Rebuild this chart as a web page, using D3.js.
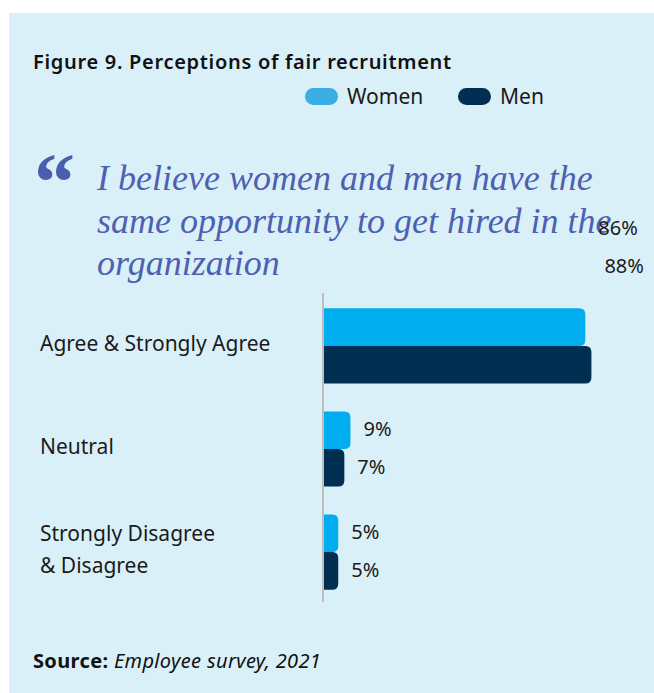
<!DOCTYPE html>
<html>
<head>
<meta charset="utf-8">
<script src="https://cdn.jsdelivr.net/npm/d3@7"></script>
<style>
  html, body { margin: 0; padding: 0; background: #ffffff; }
  svg { display: block; }
</style>
</head>
<body>
<svg id="chart" width="654" height="693"></svg>
<script>
// Survey responses, share of respondents (%)
const categories = ["Agree & Strongly Agree", "Neutral", "Strongly Disagree & Disagree"];
const categoryLines = [["Agree & Strongly Agree"], ["Neutral"], ["Strongly Disagree", "& Disagree"]];
const seriesNames = ["Women", "Men"];
const women = [86, 9, 5];
const men = [88, 7, 5];
const quoteLines = [
  "I believe women and men have the",
  "same opportunity to get hired in the",
  "organization"
];

const W = 654, H = 693;
const colors = { Women: "#00aeef", Men: "#002f52" };
const legendColors = { Women: "#3aaee2", Men: "#012e52" };
const sans = "'Noto Sans', 'Open Sans', sans-serif";

const svg = d3.select("#chart");

// background panel
svg.append("rect")
  .attr("x", 9).attr("y", 13)
  .attr("width", W - 9).attr("height", H - 13)
  .attr("fill", "#daf0f8");

// title
svg.append("text")
  .attr("x", 33).attr("y", 69)
  .attr("font-family", sans)
  .attr("font-weight", 600)
  .attr("font-size", 20)
  .attr("letter-spacing", 0.7)
  .attr("fill", "#111")
  .text("Figure 9. Perceptions of fair recruitment");

// legend
const legendItems = [{ name: "Women", x: 305 }, { name: "Men", x: 458 }];
const lg = svg.append("g").selectAll("g").data(legendItems).join("g")
  .attr("transform", d => `translate(${d.x},88)`);
lg.append("rect")
  .attr("width", 33).attr("height", 17).attr("rx", 8.5)
  .attr("fill", d => legendColors[d.name]);
lg.append("text")
  .attr("x", 42).attr("y", 16)
  .attr("font-family", sans).attr("font-size", 21)
  .attr("fill", "#1a1a1a")
  .text(d => d.name);

// quotation
svg.append("text")
  .attr("x", 34).attr("y", 210)
  .attr("font-family", "'Liberation Serif', serif")
  .attr("font-weight", 700)
  .attr("font-size", 82)
  .attr("fill", "#4a5eae")
  .text("\u201C");

svg.append("g").selectAll("text").data(quoteLines).join("text")
  .attr("x", 97)
  .attr("y", (d, i) => 190 + i * 42.5)
  .attr("font-family", "'Liberation Serif', serif")
  .attr("font-style", "italic")
  .attr("font-size", 36)
  .attr("fill", "#4d60b2")
  .text(d => d);

// scales
const x = d3.scaleLinear().domain([0, 100]).range([323, 628]);
const y = d3.scaleBand().domain(categories).range([296, 602])
  .paddingInner(0.27).paddingOuter(0.12);
const ySub = d3.scaleBand().domain(seriesNames).range([0, y.bandwidth()]);

// bar path: square on the left, rounded on the right
function barPath(x0, y0, w, h, r) {
  r = Math.min(r, w, h / 2);
  return `M${x0},${y0}H${x0 + w - r}Q${x0 + w},${y0} ${x0 + w},${y0 + r}` +
         `V${y0 + h - r}Q${x0 + w},${y0 + h} ${x0 + w - r},${y0 + h}H${x0}Z`;
}

const rows = [];
categories.forEach((c, i) => {
  rows.push({ cat: c, idx: i, series: "Women", value: women[i] });
  rows.push({ cat: c, idx: i, series: "Men", value: men[i] });
});

svg.append("g").selectAll("path").data(rows).join("path")
  .attr("d", d => barPath(x(0), y(d.cat) + ySub(d.series), x(d.value) - x(0), ySub.bandwidth(), 6))
  .attr("fill", d => colors[d.series]);

// value labels (top group labels sit above the chart area)
const labelShift = [-98, 0, 0];
svg.append("g").selectAll("text").data(rows).join("text")
  .attr("x", d => x(d.value) + 13)
  .attr("y", d => y(d.cat) + ySub(d.series) + ySub.bandwidth() / 2 + 6 + labelShift[d.idx])
  .attr("font-family", sans).attr("font-size", 20)
  .attr("fill", "#1a1a1a")
  .text(d => d.value + "%");

// axis line
svg.append("line")
  .attr("x1", x(0)).attr("x2", x(0))
  .attr("y1", 293).attr("y2", 602)
  .attr("stroke", "#bdbdbd").attr("stroke-width", 2);

// category labels
const catG = svg.append("g").selectAll("text").data(categories).join("text")
  .attr("font-family", sans).attr("font-size", 21)
  .attr("fill", "#1a1a1a");
catG.each(function (c, i) {
  const lines = categoryLines[i];
  const cy = y(c) + y.bandwidth() / 2;
  const lh = 32;
  const top = cy - (lines.length - 1) * lh / 2 + 5;
  d3.select(this).selectAll("tspan").data(lines).join("tspan")
    .attr("x", 40)
    .attr("y", (d, j) => top + j * lh)
    .text(d => d);
});

// source note
const src = svg.append("text")
  .attr("x", 33).attr("y", 668)
  .attr("font-family", sans).attr("font-size", 20)
  .attr("letter-spacing", 0.35)
  .attr("fill", "#111");
src.append("tspan").attr("font-weight", 700).text("Source: ");
src.append("tspan").attr("font-style", "italic").text("Employee survey, 2021");
</script>
</body>
</html>
